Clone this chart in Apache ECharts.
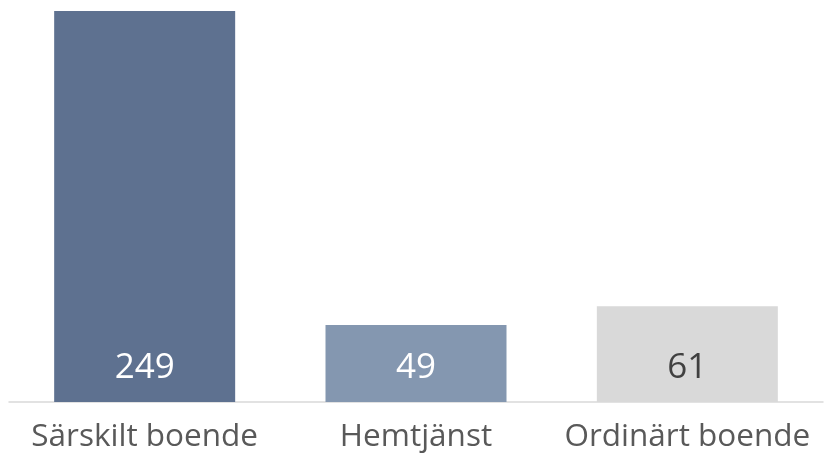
<!doctype html>
<html lang="sv">
<head>
    <meta charset="UTF-8">
    <title>Boendeform</title>
    <style>
        html, body { margin: 0; padding: 0; background: #fff; }
        #main { width: 831px; height: 458px; }
    </style>
    <script src="https://cdnjs.cloudflare.com/ajax/libs/echarts/6.0.0/echarts.min.js"></script>
</head>
<body>
    <div id="main"></div>
    <script>
        var categories = ['Särskilt boende', 'Hemtjänst', 'Ordinärt boende'];
        var values = [249, 49, 61];
        var barColors = ['#5e7190', '#8497b0', '#d9d9d9'];
        var labelColors = ['#ffffff', '#ffffff', '#404040'];

        var chart = echarts.init(document.getElementById('main'));
        chart.setOption({
            animation: false,
            grid: { left: 9, right: 8, top: 11, bottom: 56, containLabel: false },
            xAxis: {
                type: 'category',
                data: categories,
                axisLine: { lineStyle: { color: '#d9d9d9', width: 1.5 } },
                axisTick: { show: false },
                axisLabel: {
                    interval: 0,
                    hideOverlap: false,
                    color: '#595959',
                    fontSize: 31.5,
                    fontFamily: 'Open Sans',
                    margin: 19
                }
            },
            yAxis: {
                type: 'value',
                min: 0,
                max: 249,
                show: false,
                splitLine: { show: false }
            },
            series: [{
                type: 'bar',
                barWidth: 181,
                data: values.map(function (v, i) {
                    return {
                        value: v,
                        itemStyle: { color: barColors[i] },
                        label: { color: labelColors[i] }
                    };
                }),
                label: {
                    show: true,
                    position: 'insideBottom',
                    distance: 16,
                    fontSize: 35,
                    fontFamily: 'Open Sans'
                }
            }]
        });
    </script>
</body>
</html>
